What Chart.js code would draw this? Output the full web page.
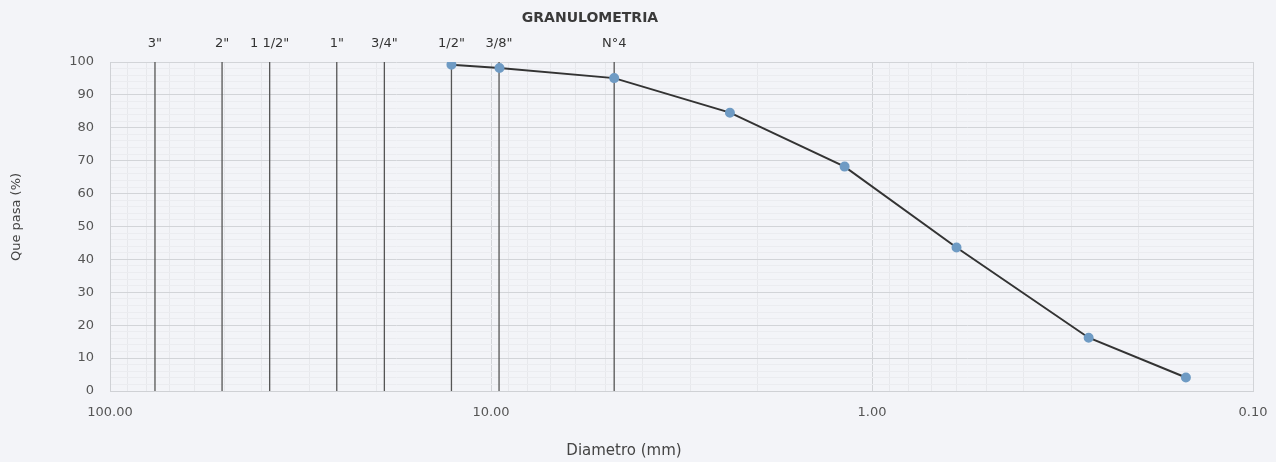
<!DOCTYPE html>
<html lang="es">
<head>
    <meta charset="UTF-8">
    <title>Granulometria</title>
    <script src="https://cdn.jsdelivr.net/npm/chart.js"></script>
    <style>
        html, body {
            margin: 0;
            padding: 0;
            background-color: #f3f4f8;
        }
        #wrap {
            width: 1276px;
            height: 462px;
        }
    </style>
</head>
<body>
    <div id="wrap"><canvas id="granChart"></canvas></div>

    <script>
        // Curva granulométrica
        const diametros = [12.7, 9.5, 4.75, 2.36, 1.18, 0.6, 0.27, 0.15]; // mm
        const quePasa   = [99.2, 98.2, 95.1, 84.6, 68.2, 43.6, 16.2, 4.1]; // %

        // Tamices marcados con líneas verticales
        const tamices     = ['3"', '2"', '1 1/2"', '1"', '3/4"', '1/2"', '3/8"', 'N°4'];
        const tamicesMm   = [76.2, 50.8, 38.1, 25.4, 19.05, 12.7, 9.525, 4.75];

        // ticks del eje x (escala log, de 100 a 0.1)
        const xDecadas = [100, 10, 1, 0.1];
        const yMax = 100;

        const FONT = "'DejaVu Sans', 'Open Sans', sans-serif";
        Chart.defaults.font.family = FONT;
        Chart.defaults.color = '#555';

        const esDecada = v => xDecadas.some(d => Math.abs(v - d) < 1e-9);

        const xTicks = [];
        [0.1, 1, 10].forEach(base => {
            for (let m = 1; m <= 9; m++) xTicks.push(+(base * m).toFixed(4));
        });
        xTicks.push(100);

        const datasets = [{
            label: 'Que pasa',
            data: diametros.map((d, i) => ({ x: d, y: quePasa[i] })),
            borderColor: '#333',
            borderWidth: 2,
            pointBackgroundColor: '#6f9bc4',
            pointBorderColor: '#6f9bc4',
            pointRadius: 4,
            tension: 0,
            order: 0
        }];

        tamicesMm.forEach((mm, i) => {
            datasets.push({
                label: tamices[i],
                data: [{ x: mm, y: 0 }, { x: mm, y: yMax }],
                borderColor: '#555',
                borderWidth: 1.3,
                pointRadius: 0,
                order: 1
            });
        });

        // título, títulos de ejes y etiquetas de los tamices
        const textos = {
            id: 'textos',
            afterDraw(chart) {
                const { ctx, chartArea } = chart;
                const xs = chart.scales.x;
                ctx.save();
                ctx.textAlign = 'center';
                ctx.textBaseline = 'middle';
                ctx.fillStyle = '#3a3a3a';
                ctx.font = 'bold 14px ' + FONT;
                ctx.fillText('GRANULOMETRIA', 590, 18);

                ctx.font = '13px ' + FONT;
                ctx.fillStyle = '#333';
                tamices.forEach((t, i) => {
                    ctx.fillText(t, xs.getPixelForValue(tamicesMm[i]), chartArea.top - 18);
                });

                ctx.fillStyle = '#444';
                ctx.font = '15px ' + FONT;
                ctx.fillText('Diametro (mm)', 624, 451);

                ctx.font = '13px ' + FONT;
                ctx.translate(17, 217);
                ctx.rotate(-Math.PI / 2);
                ctx.fillText('Que pasa (%)', 0, 0);
                ctx.restore();
            }
        };

        new Chart(document.getElementById('granChart'), {
            type: 'line',
            data: { datasets },
            plugins: [textos],
            options: {
                responsive: true,
                maintainAspectRatio: false,
                animation: false,
                layout: { padding: { left: 8, right: 23, top: 62, bottom: 0 } },
                plugins: {
                    legend: { display: false },
                    tooltip: { enabled: false },
                    title: { display: false }
                },
                scales: {
                    x: {
                        type: 'logarithmic',
                        reverse: true,
                        min: 0.1,
                        max: 100,
                        afterBuildTicks: s => { s.ticks = xTicks.map(v => ({ value: v })); },
                        afterFit: s => { s.height = 71; },
                        ticks: {
                            autoSkip: false,
                            maxRotation: 0,
                            padding: 14,
                            color: '#555',
                            font: { size: 13 },
                            callback: v => esDecada(v) ? v.toFixed(2) : ''
                        },
                        grid: {
                            color: c => c.tick && esDecada(c.tick.value) ? '#d2d4d8' : '#e7e8ec',
                            drawTicks: false
                        },
                        border: { color: '#cfd1d5' }
                    },
                    y: {
                        min: 0,
                        max: yMax,
                        afterFit: s => { s.width = 102; },
                        ticks: {
                            stepSize: 2,
                            autoSkip: false,
                            padding: 16,
                            color: '#555',
                            font: { size: 13 },
                            callback: v => v % 10 === 0 ? v : ''
                        },
                        grid: {
                            color: c => c.tick && c.tick.value % 10 === 0 ? '#d2d4d8' : '#ebecf0',
                            drawTicks: false
                        },
                        border: { color: '#cfd1d5' }
                    }
                }
            }
        });
    </script>
</body>
</html>
